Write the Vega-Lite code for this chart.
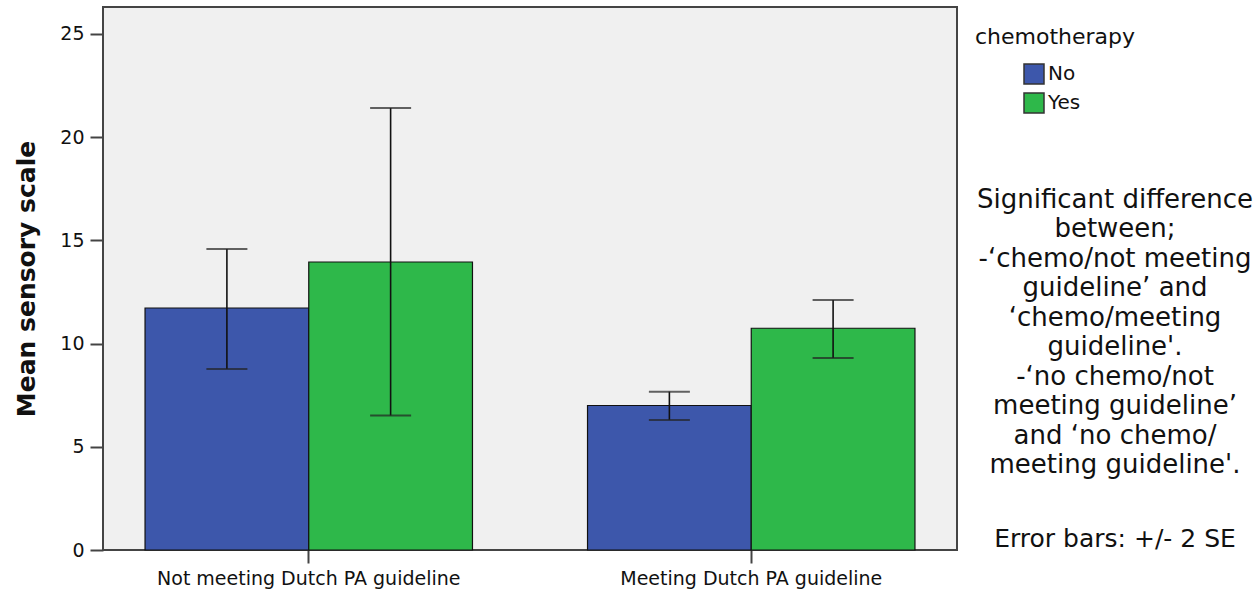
{
  "$schema": "https://vega.github.io/schema/vega-lite/v6.json",
  "width": 854,
  "height": 543,
  "autosize": {"type": "none"},
  "padding": {"left": 103, "top": 7, "right": 300, "bottom": 43},
  "background": "white",
  "config": {
    "font": "DejaVu Sans",
    "view": {"fill": "#F0F0F0", "stroke": "#444444", "strokeWidth": 2},
    "axis": {"domain": false, "grid": false, "tickColor": "#444444", "tickWidth": 2, "labelColor": "#111111", "labelFont": "DejaVu Sans", "labelLimit": 0}
  },
  "title": {
    "text": ["Significant difference", "between;", "-‘chemo/not meeting", "guideline’ and", "‘chemo/meeting", "guideline'.", "-‘no chemo/not", "meeting guideline’", "and ‘no chemo/", "meeting guideline'."],
    "subtitle": "Error bars: +/- 2 SE",
    "subtitlePadding": 49,
    "subtitleFontSize": 25,
    "subtitleFont": "DejaVu Sans",
    "subtitleColor": "#111111",
    "subtitleLineHeight": 29.5,
    "orient": "top",
    "anchor": "end",
    "frame": "group",
    "align": "center",
    "baseline": "top",
    "offset": 0,
    "dx": 158,
    "dy": 545,
    "fontSize": 26,
    "fontWeight": "normal",
    "font": "DejaVu Sans",
    "color": "#111111",
    "lineHeight": 29.5
  },
  "data": {
    "values": [
      {"group": "Not meeting Dutch PA guideline", "chemotherapy": "No", "mean": 11.72, "lo": 8.77, "hi": 14.58},
      {"group": "Not meeting Dutch PA guideline", "chemotherapy": "Yes", "mean": 13.95, "lo": 6.52, "hi": 21.41},
      {"group": "Meeting Dutch PA guideline", "chemotherapy": "No", "mean": 7.0, "lo": 6.3, "hi": 7.67},
      {"group": "Meeting Dutch PA guideline", "chemotherapy": "Yes", "mean": 10.74, "lo": 9.3, "hi": 12.11}
    ]
  },
  "encoding": {
    "x": {
      "field": "group",
      "type": "nominal",
      "sort": ["Not meeting Dutch PA guideline", "Meeting Dutch PA guideline"],
      "scale": {"paddingInner": 0.26, "paddingOuter": 0.095},
      "axis": {"title": null, "labelAngle": 0, "labelFontSize": 19, "tickSize": 13, "labelPadding": 6, "labelLimit": 0}
    },
    "xOffset": {
      "field": "chemotherapy",
      "type": "nominal",
      "sort": ["No", "Yes"],
      "scale": {"paddingInner": 0, "paddingOuter": 0}
    }
  },
  "layer": [
    {
      "mark": {"type": "bar", "stroke": "#111111", "strokeWidth": 1.2},
      "encoding": {
        "y": {
          "field": "mean",
          "type": "quantitative",
          "scale": {"domain": [0, 26.3], "nice": false},
          "axis": {
            "title": "Mean sensory scale",
            "titleFontSize": 25,
            "titleFontWeight": "bold",
            "titleColor": "#111111",
            "titlePadding": 20,
            "values": [0, 5, 10, 15, 20, 25],
            "labelFontSize": 19,
            "tickSize": 13,
            "labelPadding": 6
          }
        },
        "color": {
          "field": "chemotherapy",
          "type": "nominal",
          "sort": ["No", "Yes"],
          "scale": {"domain": ["No", "Yes"], "range": ["#3D57AB", "#2EB84A"]},
          "legend": {
            "orient": "none",
            "legendX": 872,
            "legendY": 20,
            "title": "chemotherapy",
            "titleFontSize": 22,
            "titleFontWeight": "normal",
            "titleColor": "#111111",
            "titlePadding": 14,
            "symbolType": "square",
            "symbolSize": 400,
            "symbolStrokeColor": "#333333",
            "symbolStrokeWidth": 1.5,
            "symbolOffset": 48,
            "labelFontSize": 20,
            "labelColor": "#111111",
            "labelOffset": 3,
            "rowPadding": 3
          }
        }
      }
    },
    {
      "mark": {"type": "rule", "color": "#111111", "strokeWidth": 1.6},
      "encoding": {
        "y": {"field": "lo", "type": "quantitative"},
        "y2": {"field": "hi"}
      }
    },
    {
      "mark": {"type": "tick", "color": "#222222", "thickness": 2, "size": 41},
      "encoding": {
        "y": {"field": "lo", "type": "quantitative"}
      }
    },
    {
      "mark": {"type": "tick", "color": "#222222", "thickness": 2, "size": 41},
      "encoding": {
        "y": {"field": "hi", "type": "quantitative"}
      }
    }
  ]
}
